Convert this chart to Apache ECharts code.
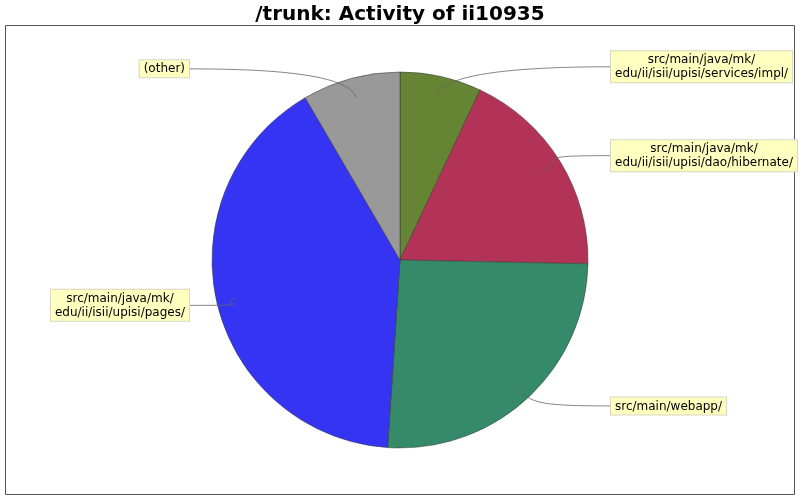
<!DOCTYPE html>
<html lang="en">
<head>
    <meta charset="UTF-8">
    <title>/trunk: Activity of ii10935</title>
    <script src="https://cdn.jsdelivr.net/npm/echarts@6/dist/echarts.min.js"></script>
</head>
<body style="margin:0;background:#fff">
<div id="main" style="width:800px;height:500px"></div>
<script>
    // directories, clockwise from 12 o'clock
    var dirNames = [
        "src/main/java/mk/\nedu/ii/isii/upisi/services/impl/",
        "src/main/java/mk/\nedu/ii/isii/upisi/dao/hibernate/",
        "src/main/webapp/",
        "src/main/java/mk/\nedu/ii/isii/upisi/pages/",
        "(other)"
    ];
    // share of activity, %
    var activity = [7.0, 18.3, 25.7, 40.5, 8.4];
    var sliceColors = ["#668534", "#b33358", "#358a69", "#3434f2", "#999999"];

    var pieX = 400, pieY = 260, pieR = 188;
    var labelGap = 23;     // pie edge -> label box
    var anchorInset = 20;  // link starts inside the slice

    var myChart = echarts.init(document.getElementById("main"));

    var sliceData = dirNames.map(function (n, i) {
        return {name: n, value: activity[i], itemStyle: {color: sliceColors[i]}};
    });
    var labelData = dirNames.map(function (n, i) {
        return {name: n, value: activity[i]};
    });

    // labels in two columns beside the pie, cubic link curving into the slice
    function placeLabel(params) {
        var pts = params.labelLinePoints;
        if (!pts) return {};
        var p0 = pts[0], p1 = pts[1];
        var dx = p1[0] - p0[0], dy = p1[1] - p0[1];
        var len = Math.sqrt(dx * dx + dy * dy) || 1;
        var ux = dx / len, uy = dy / len;
        var a = [p0[0] - ux * anchorInset, p0[1] - uy * anchorInset];
        var right = p1[0] >= pieX;
        var boxX = right ? pieX + pieR + labelGap : pieX - pieR - labelGap;
        var end = [boxX, p1[1]];
        var c1 = [a[0] + ux * 25, a[1] + uy * 25];
        var c2 = [end[0] + (right ? -80 : 80), end[1]];
        var curve = [];
        for (var k = 0; k <= 24; k++) {
            var t = k / 24, s = 1 - t;
            curve.push([
                s * s * s * a[0] + 3 * s * s * t * c1[0] + 3 * s * t * t * c2[0] + t * t * t * end[0],
                s * s * s * a[1] + 3 * s * s * t * c1[1] + 3 * s * t * t * c2[1] + t * t * t * end[1]
            ]);
        }
        return {
            x: boxX,
            y: p1[1],
            align: right ? "left" : "right",
            verticalAlign: "middle",
            labelLinePoints: curve
        };
    }

    var option = {
        animation: false,
        title: {
            text: "/trunk: Activity of ii10935",
            left: "center",
            top: 0,
            textStyle: {fontFamily: "DejaVu Sans", fontSize: 20, fontWeight: "bold", color: "#000"}
        },
        graphic: [{
            type: "rect",
            shape: {x: 5.5, y: 25.5, width: 789, height: 469},
            style: {fill: null, stroke: "#555", lineWidth: 1},
            z: -1
        }],
        series: [{
            // the slices
            type: "pie",
            z: 2,
            center: [pieX, pieY],
            radius: pieR,
            startAngle: 90,
            clockwise: true,
            silent: true,
            itemStyle: {borderColor: "#333", borderWidth: 0.5},
            label: {show: false},
            labelLine: {show: false},
            emphasis: {disabled: true},
            data: sliceData
        }, {
            // same pie, transparent, only carries the labels so links sit on top
            type: "pie",
            z: 3,
            center: [pieX, pieY],
            radius: pieR,
            startAngle: 90,
            clockwise: true,
            silent: true,
            avoidLabelOverlap: false,
            itemStyle: {color: "rgba(0,0,0,0)", borderWidth: 0},
            label: {
                show: true,
                position: "outside",
                overflow: "none",
                fontFamily: "DejaVu Sans",
                fontSize: 12,
                color: "#000",
                backgroundColor: "#ffffc0",
                borderColor: "#d6d6c0",
                borderWidth: 1,
                padding: [2, 4, 1, 4],
                formatter: function (p) {
                    return p.name.split("\n").map(function (s) {
                        return "{c|" + s + "}";
                    }).join("\n");
                },
                rich: {c: {align: "center", fontFamily: "DejaVu Sans", fontSize: 12, lineHeight: 14, color: "#000"}}
            },
            labelLine: {
                show: true,
                length: 10,
                length2: 20,
                smooth: false,
                lineStyle: {color: "#666", width: 0.8}
            },
            labelLayout: placeLabel,
            emphasis: {disabled: true},
            data: labelData
        }]
    };
    myChart.setOption(option);
</script>
</body>
</html>
